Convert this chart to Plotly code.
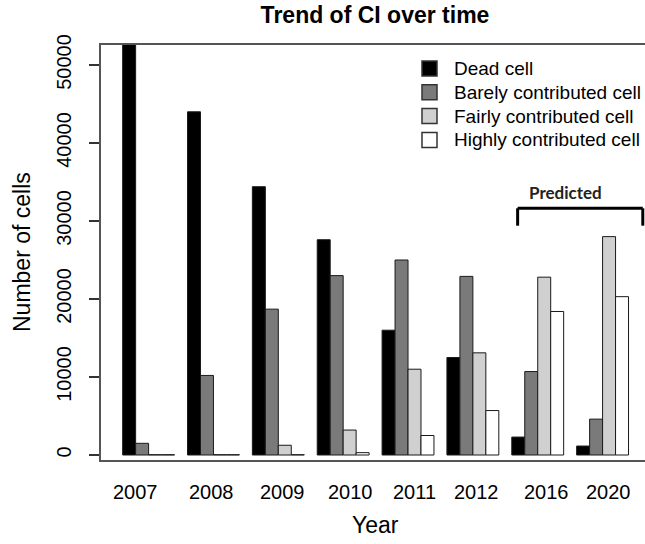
import plotly.graph_objects as go

years = ["2007", "2008", "2009", "2010", "2011", "2012", "2016", "2020"]
dead = [53000, 44000, 34400, 27600, 16000, 12500, 2300, 1150]
barely = [1500, 10200, 18700, 23000, 25000, 22900, 10700, 4600]
fairly = [40, 40, 1250, 3200, 11000, 13100, 22800, 28000]
highly = [40, 40, 40, 300, 2500, 5700, 18400, 20300]
series_names = ["Dead cell", "Barely contributed cell", "Fairly contributed cell", "Highly contributed cell"]
series_colors = ["#000000", "#7a7a7a", "#d0d0d0", "#ffffff"]
yticks = [0, 10000, 20000, 30000, 40000, 50000]
label_shift = [-13, -2, 4, 7, 6, 4, 9, 6]

FONT = "Liberation Sans, Arial, sans-serif"
W, H = 645, 544
ML, MR, MT, MB = 101, 0, 45, 84
PW, PH = W - ML - MR, H - MT - MB


def px_to_paper_x(px):
    return (px - ML) / PW


def px_to_paper_y(py):
    return (H - MB - py) / PH


fig = go.Figure()
for name, vals, col in zip(series_names, [dead, barely, fairly, highly], series_colors):
    fig.add_trace(go.Bar(
        x=years, y=vals, name=name, showlegend=False,
        marker=dict(color=col, line=dict(color="#1a1a1a", width=1)),
    ))

annotations = []
shapes = []
for i, (yr, sh) in enumerate(zip(years, label_shift)):
    annotations.append(dict(
        x=i, y=px_to_paper_y(492), xref="x", yref="paper", text=yr, showarrow=False,
        xshift=sh, xanchor="center", yanchor="middle",
        font=dict(family=FONT, size=20, color="#000000"),
    ))

# manual legend (R-style)
row_y = [68.5, 92.3, 116.1, 139.9]
for name, col, ry in zip(series_names, series_colors, row_y):
    shapes.append(dict(
        type="rect", xref="paper", yref="paper",
        x0=px_to_paper_x(422), x1=px_to_paper_x(437),
        y0=px_to_paper_y(ry - 7.5), y1=px_to_paper_y(ry + 7.5),
        fillcolor=col, line=dict(color="#333333", width=1.5),
    ))
    annotations.append(dict(
        x=px_to_paper_x(452), y=px_to_paper_y(ry), xref="paper", yref="paper",
        text=name, showarrow=False, xanchor="left", yanchor="middle",
        font=dict(family=FONT, size=19, color="#000000"),
    ))

annotations.append(dict(
    x=6.43, y=px_to_paper_y(192), xref="x", yref="paper", text="<b>Predicted</b>",
    showarrow=False, xanchor="center", yanchor="middle",
    font=dict(family="Lato, Open Sans, sans-serif", size=17, color="#222222"),
))

shapes += [
    dict(type="line", xref="x", yref="y", x0=5.69, x1=7.62, y0=31630, y1=31630,
         line=dict(color="#000000", width=3)),
    dict(type="line", xref="x", yref="y", x0=5.69, x1=5.69, y0=29400, y1=31630,
         line=dict(color="#000000", width=3)),
    dict(type="line", xref="x", yref="y", x0=7.62, x1=7.62, y0=29400, y1=31630,
         line=dict(color="#000000", width=3)),
]

fig.update_layout(
    template="none",
    width=W, height=H,
    margin=dict(l=ML, r=MR, t=MT, b=MB, pad=0),
    paper_bgcolor="white", plot_bgcolor="white",
    barmode="group", bargap=0.2, bargroupgap=0,
    title=dict(text="<b>Trend of CI over time</b>", x=375 / W, xanchor="center",
               y=1 - 15 / H, yanchor="middle",
               font=dict(family=FONT, size=23, color="#000000")),
    font=dict(family=FONT, color="#000000"),
    showlegend=False,
    annotations=annotations,
    shapes=shapes,
)
fig.update_xaxes(
    type="category", range=[-0.734, 7.654], showticklabels=False, ticks="",
    showline=True, linecolor="#555555", linewidth=2, mirror=True,
    showgrid=False, zeroline=False, automargin=False,
)
fig.add_annotation(
    x=px_to_paper_x(375), y=px_to_paper_y(525), xref="paper", yref="paper",
    text="Year", showarrow=False, xanchor="center", yanchor="middle",
    font=dict(family=FONT, size=23, color="#000000"),
)
fig.update_yaxes(
    range=[-640, 52565], tickvals=yticks, ticktext=[str(v) for v in yticks],
    tickangle=-90, ticks="outside", ticklen=10, tickcolor="#333333", tickwidth=1.5,
    ticklabelstandoff=10,
    tickfont=dict(family=FONT, size=20, color="#000000"),
    showline=True, linecolor="#555555", linewidth=2, mirror=False,
    showgrid=False, zeroline=False, automargin=False,
)
fig.add_annotation(
    x=px_to_paper_x(22), y=px_to_paper_y(252), xref="paper", yref="paper",
    text="Number of cells", showarrow=False, textangle=-90,
    xanchor="center", yanchor="middle",
    font=dict(family=FONT, size=23, color="#000000"),
)

fig.write_html("out.html", config={"displayModeBar": False},
               post_script="document.body.style.margin='0';")
